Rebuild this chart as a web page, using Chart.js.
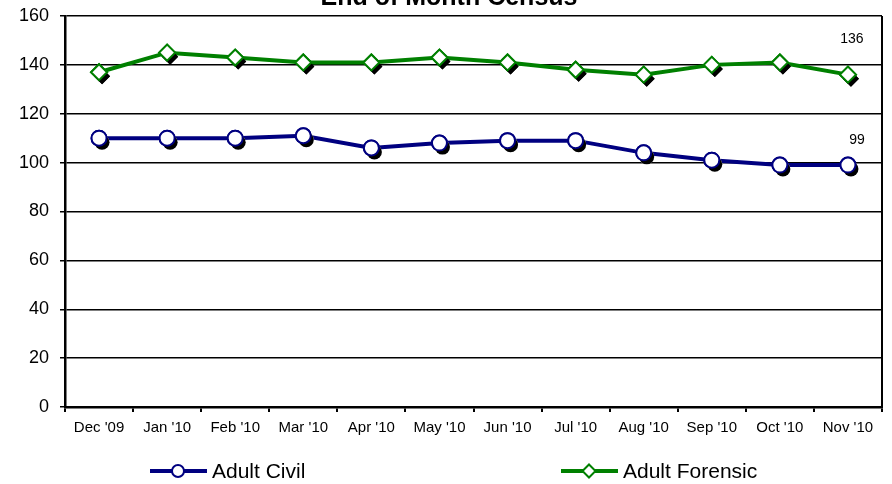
<!DOCTYPE html>
<html>
<head>
<meta charset="utf-8">
<script src="https://cdn.jsdelivr.net/npm/chart.js@4/dist/chart.umd.min.js"></script>
<style>
  html, body { margin: 0; padding: 0; background: #fff; }
  #wrap { width: 892px; height: 484px; position: relative; }
</style>
</head>
<body>
<div id="wrap"><canvas id="censusChart" width="892" height="484"></canvas></div>
<script>
// Months on the x axis
var months = ["Dec '09", "Jan '10", "Feb '10", "Mar '10", "Apr '10", "May '10",
              "Jun '10", "Jul '10", "Aug '10", "Sep '10", "Oct '10", "Nov '10"];

// Census counts
var adultCivil    = [110, 110, 110, 111, 106, 108, 109, 109, 104, 101, 99, 99];
var adultForensic = [137, 145, 143, 141, 141, 143, 141, 138, 136, 140, 141, 136];

var yTicks = [0, 20, 40, 60, 80, 100, 120, 140, 160];

var FONT = 'Arial, "Liberation Sans", sans-serif';

// draws a black offset shadow under each marker, then the marker again on top
var markerShadow = {
    id: 'markerShadow',
    afterDatasetDraw: function(chart, args) {
        var ctx = chart.ctx;
        var meta = args.meta;
        meta.data.forEach(function(pt) {
            var o = pt.options;
            ctx.save();
            ctx.beginPath();
            Chart.helpers.drawPoint(ctx, {
                pointStyle: o.pointStyle,
                radius: o.radius,
                rotation: 0,
                borderWidth: 0
            }, pt.x + 3, pt.y + 4);
            ctx.fillStyle = '#000';
            ctx.fill();
            ctx.restore();
        });
        meta.data.forEach(function(pt) { pt.draw(ctx); });
    }
};

// title (cut off at top), last-value labels, right border and legend
var extras = {
    id: 'extras',
    afterDraw: function(chart) {
        var ctx = chart.ctx;
        var area = chart.chartArea;
        ctx.save();

        // right border of plot
        ctx.strokeStyle = '#000';
        ctx.lineWidth = 2;
        ctx.beginPath();
        ctx.moveTo(area.right, area.top);
        ctx.lineTo(area.right, area.bottom);
        ctx.stroke();

        // title
        ctx.fillStyle = '#000';
        ctx.font = 'bold 25px ' + FONT;
        ctx.textAlign = 'center';
        ctx.textBaseline = 'alphabetic';
        ctx.fillText('End of Month Census', 449, 5);

        // labels on last points
        ctx.font = '14px ' + FONT;
        ctx.textBaseline = 'middle';
        var offs = [[9, -25], [4, -36]];
        chart.data.datasets.forEach(function(ds, i) {
            var meta = chart.getDatasetMeta(i);
            var last = meta.data[meta.data.length - 1];
            ctx.fillText(String(ds.data[ds.data.length - 1]), last.x + offs[i][0], last.y + offs[i][1]);
        });

        // legend
        var items = [
            { x: 150, text: 'Adult Civil', ds: chart.data.datasets[0] },
            { x: 561, text: 'Adult Forensic', ds: chart.data.datasets[1] }
        ];
        var ly = 471;
        items.forEach(function(it) {
            ctx.strokeStyle = it.ds.borderColor;
            ctx.lineWidth = 4;
            ctx.beginPath();
            ctx.moveTo(it.x, ly);
            ctx.lineTo(it.x + 57, ly);
            ctx.stroke();
            ctx.fillStyle = '#fff';
            ctx.strokeStyle = it.ds.borderColor;
            ctx.lineWidth = 2;
            Chart.helpers.drawPoint(ctx, {
                pointStyle: it.ds.pointStyle,
                radius: it.ds.pointStyle === 'circle' ? 6 : 6.5,
                rotation: 0,
                borderWidth: 2
            }, it.x + 28, ly);
            ctx.fillStyle = '#000';
            ctx.font = '21px ' + FONT;
            ctx.textAlign = 'left';
            ctx.textBaseline = 'middle';
            ctx.fillText(it.text, it.x + 62, ly + 1);
        });
        ctx.restore();
    }
};

var ctx = document.getElementById('censusChart').getContext('2d');
var censusChart = new Chart(ctx, {
    type: 'line',
    data: {
        labels: months,
        datasets: [{
            label: 'Adult Civil',
            data: adultCivil,
            borderColor: '#000080',
            backgroundColor: '#ffffff',
            borderWidth: 4,
            pointStyle: 'circle',
            pointRadius: 7.5,
            pointBorderWidth: 2,
            pointBackgroundColor: '#ffffff',
            pointBorderColor: '#000080',
            tension: 0,
            fill: false
        }, {
            label: 'Adult Forensic',
            data: adultForensic,
            borderColor: '#008000',
            backgroundColor: '#ffffff',
            borderWidth: 4,
            pointStyle: 'rectRot',
            pointRadius: 8,
            pointBorderWidth: 2,
            pointBackgroundColor: '#ffffff',
            pointBorderColor: '#008000',
            tension: 0,
            fill: false
        }]
    },
    options: {
        responsive: false,
        animation: false,
        devicePixelRatio: 1,
        layout: { padding: { top: 16, right: 10, left: 0, bottom: 0 } },
        plugins: {
            legend: { display: false },
            title: { display: false },
            tooltip: { enabled: false }
        },
        scales: {
            x: {
                offset: true,
                grid: {
                    display: true,
                    offset: true,
                    drawOnChartArea: false,
                    drawTicks: true,
                    tickLength: 5,
                    color: '#000',
                    lineWidth: 2
                },
                border: { display: true, color: '#000', width: 2.5 },
                ticks: {
                    color: '#000',
                    font: { family: FONT, size: 15 },
                    padding: 7,
                    maxRotation: 0,
                    autoSkip: false
                },
                afterFit: function(scale) {
                    scale.height = 77;
                    scale.paddingLeft = 0;
                    scale.paddingRight = 0;
                }
            },
            y: {
                min: 0,
                max: 160,
                afterBuildTicks: function(scale) {
                    scale.ticks = yTicks.map(function(v) { return { value: v }; });
                },
                grid: {
                    color: '#000',
                    lineWidth: 1.5,
                    drawTicks: true,
                    tickLength: 5
                },
                border: { display: true, color: '#000', width: 2.5 },
                ticks: {
                    color: '#000',
                    font: { family: FONT, size: 18 },
                    padding: 11
                },
                afterFit: function(scale) {
                    scale.width = 65;
                    scale.paddingTop = 0;
                    scale.paddingBottom = 0;
                }
            }
        }
    },
    plugins: [markerShadow, extras]
});
</script>
</body>
</html>
